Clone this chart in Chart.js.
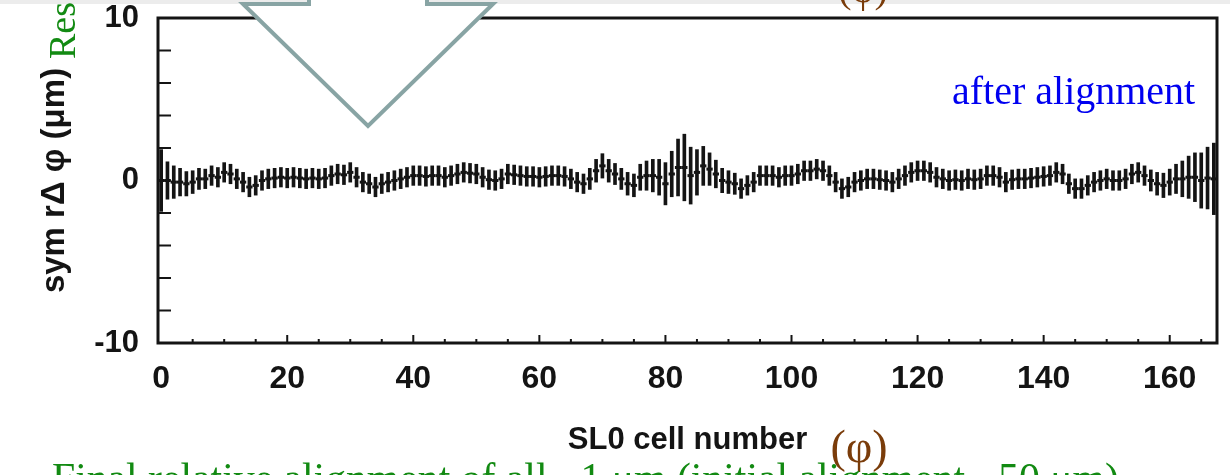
<!DOCTYPE html>
<html>
<head>
<meta charset="utf-8">
<script src="https://cdn.jsdelivr.net/npm/chart.js@4.4.1/dist/chart.umd.min.js"></script>
<style>
  html, body { margin: 0; padding: 0; background: #fff; }
  #wrap { width: 1230px; height: 475px; position: relative; }
</style>
</head>
<body>
<div id="wrap"><canvas id="residuals"></canvas></div>
<script>
// SL0 cells, symmetric r*dphi residual per cell and its error (um)
const cells = Array.from({ length: 168 }, (_, i) => i);

const values = [
   0.0,  0.0, -0.1, -0.1, -0.2, -0.1,  0.1,  0.1,  0.3,  0.2,
   0.5,  0.4,  0.1, -0.1, -0.4, -0.3,  0.0,  0.1, 0.15,  0.2,
  0.15,  0.2, 0.15,  0.1, 0.15,  0.1, 0.15,  0.3,  0.4, 0.35,
   0.5,  0.2, -0.1, -0.2, -0.4, -0.2, -0.1,  0.0,  0.1,  0.2,
   0.3,  0.3, 0.25,  0.3,  0.3,  0.2,  0.3,  0.4,  0.5, 0.45,
   0.4,  0.2, 0.05,  0.0,  0.1,  0.4, 0.35,  0.3, 0.25, 0.25,
   0.2, 0.25,  0.3,  0.3, 0.25,  0.1, -0.1, -0.2,  0.1,  0.6,
   0.9,  0.6,  0.4,  0.1, -0.2, -0.3,  0.2,  0.3,  0.3,  0.2,
  -0.2,  0.4,  0.8,  0.8,  0.3,  0.5,  0.9,  0.7,  0.4,  0.0,
  -0.1, -0.2, -0.5, -0.3, -0.1,  0.3,  0.3,  0.3,  0.2,  0.3,
   0.3,  0.4,  0.6,  0.6,  0.7,  0.6,  0.3, -0.1, -0.5, -0.4,
  -0.1,  0.0,  0.1,  0.1, 0.05,  0.0, -0.1,  0.1,  0.3,  0.5,
   0.6,  0.6,  0.5,  0.2,  0.1,  0.0, 0.05,  0.0,  0.1, 0.05,
   0.1,  0.3,  0.3,  0.2, -0.1, 0.05,  0.1,  0.1, 0.15,  0.2,
  0.25,  0.3,  0.5,  0.4, -0.2, -0.5, -0.5, -0.3, -0.1,  0.0,
   0.1,  0.0,  0.0,  0.1,  0.4,  0.5,  0.3,  0.0, -0.2, -0.3,
  -0.1,  0.1,  0.1,  0.2,  0.2,  0.0, 0.15,  0.1
];

const errors = [
  1.9, 1.15, 1.0, 0.85, 0.75, 0.7, 0.65, 0.6, 0.6, 0.6,
  0.6, 0.6, 0.6, 0.6, 0.6, 0.6, 0.6, 0.6, 0.6, 0.6,
  0.6, 0.6, 0.6, 0.6, 0.6, 0.6, 0.6, 0.6, 0.6, 0.6,
  0.6, 0.6, 0.6, 0.6, 0.6, 0.6, 0.6, 0.6, 0.6, 0.6,
  0.6, 0.6, 0.6, 0.6, 0.6, 0.6, 0.6, 0.6, 0.6, 0.6,
  0.6, 0.6, 0.6, 0.6, 0.6, 0.6, 0.6, 0.6, 0.6, 0.6,
  0.6, 0.6, 0.6, 0.6, 0.6, 0.6, 0.6, 0.6, 0.65, 0.7,
  0.75, 0.7, 0.65, 0.65, 0.7, 0.7, 0.8, 0.9, 1.0, 1.1,
  1.3, 1.4, 1.75, 2.05, 1.75, 1.4, 1.2, 1.0, 0.85, 0.75,
  0.7, 0.65, 0.6, 0.6, 0.6, 0.6, 0.6, 0.6, 0.6, 0.6,
  0.6, 0.6, 0.6, 0.6, 0.6, 0.6, 0.6, 0.6, 0.6, 0.6,
  0.6, 0.6, 0.6, 0.6, 0.6, 0.6, 0.6, 0.6, 0.6, 0.6,
  0.6, 0.6, 0.6, 0.6, 0.6, 0.6, 0.6, 0.6, 0.6, 0.6,
  0.6, 0.6, 0.6, 0.6, 0.6, 0.6, 0.6, 0.6, 0.6, 0.6,
  0.6, 0.6, 0.6, 0.6, 0.6, 0.6, 0.6, 0.6, 0.6, 0.6,
  0.6, 0.6, 0.6, 0.6, 0.6, 0.6, 0.6, 0.65, 0.7, 0.75,
  0.8, 0.9, 1.1, 1.3, 1.5, 1.7, 1.9, 2.2
];

const xTicks = [0, 20, 40, 60, 80, 100, 120, 140, 160];
const yTicks = [-10, 0, 10];

const INK = '#141414';
const SANS = '"Liberation Sans", Arial, sans-serif';
const SERIF = '"Liberation Serif", "Times New Roman", serif';

// white page with the thin grey slide strip on top
const background = {
  id: 'background',
  beforeDraw(chart) {
    const c = chart.ctx;
    c.save();
    c.fillStyle = '#fff';
    c.fillRect(0, 0, chart.width, chart.height);
    c.fillStyle = '#ececec';
    c.fillRect(0, 0, chart.width, 4);
    c.restore();
  }
};

// closed frame with inward tick marks
const frame = {
  id: 'frame',
  afterDatasetsDraw(chart) {
    const { ctx: c, chartArea: a, scales: { x, y } } = chart;
    c.save();
    c.strokeStyle = INK;
    c.lineWidth = 2;
    c.beginPath();
    for (let v = -8; v <= 8; v += 2) {
      const py = y.getPixelForValue(v);
      c.moveTo(a.left, py);
      c.lineTo(a.left + 13, py);
    }
    for (let v = 5; v <= 165; v += 5) {
      const px = x.getPixelForValue(v);
      c.moveTo(px, a.bottom);
      c.lineTo(px, a.bottom - (v % 20 === 0 ? 8 : 4));
    }
    c.stroke();
    c.lineWidth = 3;
    c.strokeRect(a.left, a.top, a.right - a.left, a.bottom - a.top);
    c.restore();
  }
};

// slide overlays around the plot
const overlays = {
  id: 'overlays',
  afterDraw(chart) {
    const c = chart.ctx;
    c.save();

    c.fillStyle = '#0000f0';
    c.font = '40px ' + SERIF;
    c.textBaseline = 'alphabetic';
    c.textAlign = 'left';
    c.fillText('after alignment', 952, 104);

    c.fillStyle = '#7a3c0a';
    c.textAlign = 'center';
    c.fillText('(φ)', 863, 2);
    c.font = '46px ' + SERIF;
    c.fillText('(φ)', 859, 462);

    c.fillStyle = '#128a12';
    c.save();
    c.translate(75, 59);
    c.rotate(-Math.PI / 2);
    c.font = '38px ' + SERIF;
    c.textAlign = 'left';
    c.fillText('Res', 0, 0);
    c.restore();

    const note = 'Final relative alignment of all ~1 μm (initial alignment ~50 μm)';
    c.font = '36px ' + SERIF;
    const w = c.measureText(note).width;
    c.font = (36 * 1068 / w).toFixed(1) + 'px ' + SERIF;
    c.textAlign = 'left';
    c.fillText(note, 52, 492);

    // big outlined down arrow
    c.beginPath();
    c.moveTo(309, -6);
    c.lineTo(309, 4);
    c.lineTo(243, 4);
    c.lineTo(368, 126);
    c.lineTo(493, 4);
    c.lineTo(427, 4);
    c.lineTo(427, -6);
    c.closePath();
    c.fillStyle = '#fff';
    c.fill();
    c.strokeStyle = '#88a4a4';
    c.lineWidth = 4;
    c.lineJoin = 'miter';
    c.stroke();

    c.restore();
  }
};

const halfBin = ctx => {
  const s = ctx.chart.scales.x;
  return Math.abs(s.getPixelForValue(0.5) - s.getPixelForValue(0));
};

new Chart(document.getElementById('residuals'), {
  type: 'bar',
  data: {
    datasets: [
      {
        label: 'error',
        data: cells.map((c, i) => ({ x: c, y: [values[i] - errors[i], values[i] + errors[i]] })),
        backgroundColor: INK,
        borderWidth: 0,
        barThickness: 3
      },
      {
        type: 'line',
        label: 'residual',
        data: cells.map((c, i) => ({ x: c, y: values[i] })),
        showLine: false,
        pointStyle: 'line',
        pointRadius: halfBin,
        pointBorderWidth: 3,
        pointBorderColor: INK,
        pointBackgroundColor: INK
      }
    ]
  },
  options: {
    responsive: true,
    maintainAspectRatio: false,
    animation: false,
    events: [],
    layout: { padding: { top: 18, right: 13, left: 0, bottom: 0 } },
    plugins: { legend: { display: false }, tooltip: { enabled: false } },
    scales: {
      x: {
        type: 'linear',
        min: -0.5,
        max: 167.5,
        offset: false,
        grid: { display: false, drawTicks: false },
        border: { display: false },
        afterBuildTicks: s => { s.ticks = xTicks.map(v => ({ value: v })); },
        afterFit: s => { s.height = 132; s.paddingLeft = 0; s.paddingRight = 0; },
        ticks: {
          color: INK,
          padding: 17,
          maxRotation: 0,
          font: { family: SANS, size: 32, weight: 'bold' }
        },
        title: {
          display: true,
          text: 'SL0 cell number',
          color: INK,
          padding: { bottom: 16 },
          font: { family: SANS, size: 31, weight: 'bold' }
        }
      },
      y: {
        min: -10,
        max: 10,
        grid: { display: false, drawTicks: false },
        border: { display: false },
        afterBuildTicks: s => { s.ticks = yTicks.map(v => ({ value: v })); },
        afterFit: s => { s.width = 158; s.paddingTop = 0; s.paddingBottom = 0; },
        ticks: {
          color: INK,
          padding: 19,
          font: { family: SANS, size: 31, weight: 'bold' }
        },
        title: {
          display: true,
          text: 'sym rΔ φ (μm)',
          color: INK,
          padding: { top: 35 },
          font: { family: SANS, size: 33, weight: 'bold' }
        }
      }
    }
  },
  plugins: [background, frame, overlays]
});
</script>
</body>
</html>
